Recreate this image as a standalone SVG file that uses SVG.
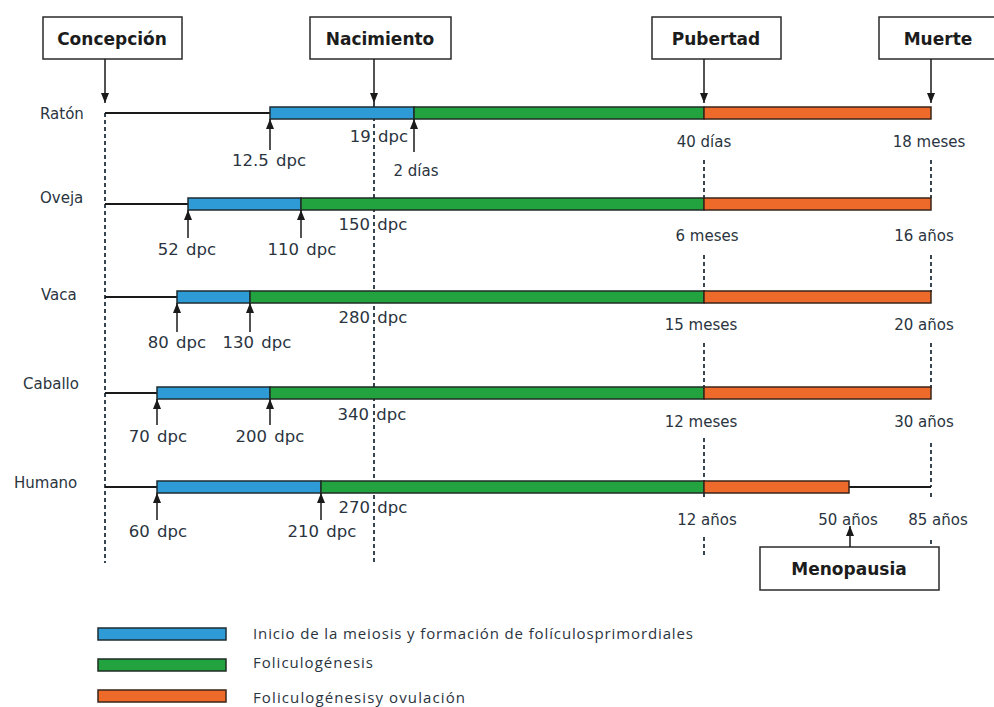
<svg xmlns="http://www.w3.org/2000/svg" width="994" height="707" viewBox="0 0 994 707">
<style>
.box{fill:#fff;stroke:#2a2a2a;stroke-width:1.5}
.bt{font-family:"DejaVu Sans",sans-serif;font-weight:bold;font-size:17px;fill:#1c1c1c;text-anchor:middle}
.sp{font-family:"DejaVu Sans",sans-serif;font-size:15px;fill:#2a3440}
.lb{font-family:"DejaVu Sans",sans-serif;font-size:15px;fill:#2a3440;text-anchor:middle}
.dpc{font-size:16.5px;word-spacing:2px}
.tl{stroke:#1a1a1a;stroke-width:2;fill:none}
.bl{fill:#2e9bd6;stroke:#1e2d33;stroke-width:1.5}
.gr{fill:#22a33f;stroke:#1e2d24;stroke-width:1.5}
.or{fill:#ee6a2b;stroke:#3a2418;stroke-width:1.5}
.ar{stroke:#1a1a1a;stroke-width:1.5;fill:none;marker-end:url(#ah)}
.dash{stroke:#23323f;stroke-width:1.8;stroke-dasharray:4 3;fill:none}
.lg{font-family:"Open Sans",sans-serif;font-size:15px;fill:#2a3440}
</style>
<defs>
<marker id="ah" viewBox="0 0 10 8" refX="10" refY="4" markerWidth="10" markerHeight="8" markerUnits="userSpaceOnUse" orient="auto">
<path d="M0,0 L10,4 L0,8 z" fill="#1a1a1a"/>
</marker>
</defs>
<rect width="994" height="707" fill="#fff"/>

<g id="guides">
<line class="dash" x1="105" y1="113" x2="105" y2="563"/>
<line class="dash" x1="374" y1="103" x2="374" y2="563"/>
<path class="dash" d="M704,160V198M704,255V292M704,343V388M704,438V481M704,493V500M704,537V558"/>
<path class="dash" d="M931,160V198M931,255V292M931,343V388M931,443V487M931,493V500M931,540V547"/>
</g>

<g id="raton">
<text class="sp" x="40" y="119">Ratón</text>
<line class="tl" x1="105" y1="113" x2="270" y2="113"/>
<rect class="bl" x="270" y="107" width="144" height="12"/>
<rect class="gr" x="414" y="107" width="290" height="12"/>
<rect class="or" x="704" y="107" width="227" height="12"/>
<text class="lb dpc" x="269" y="166">12.5 dpc</text>
<text class="lb dpc" x="379" y="142">19 dpc</text>
<text class="lb" x="416" y="176">2 días</text>
<text class="lb" x="704" y="147">40 días</text>
<text class="lb" x="929" y="147">18 meses</text>
</g>

<g id="oveja">
<text class="sp" x="40" y="203">Oveja</text>
<line class="tl" x1="105" y1="204" x2="188" y2="204"/>
<rect class="bl" x="188" y="198" width="113" height="12"/>
<rect class="gr" x="301" y="198" width="403" height="12"/>
<rect class="or" x="704" y="198" width="227" height="12"/>
<text class="lb dpc" x="187" y="255">52 dpc</text>
<text class="lb dpc" x="302" y="255">110 dpc</text>
<text class="lb dpc" x="373" y="230">150 dpc</text>
<text class="lb" x="707" y="241">6 meses</text>
<text class="lb" x="924" y="241">16 años</text>
</g>

<g id="vaca">
<text class="sp" x="41" y="300">Vaca</text>
<line class="tl" x1="105" y1="297" x2="177" y2="297"/>
<rect class="bl" x="177" y="291" width="73" height="12"/>
<rect class="gr" x="250" y="291" width="454" height="12"/>
<rect class="or" x="704" y="291" width="227" height="12"/>
<text class="lb dpc" x="177" y="348">80 dpc</text>
<text class="lb dpc" x="257" y="348">130 dpc</text>
<text class="lb dpc" x="373" y="323">280 dpc</text>
<text class="lb" x="701" y="330">15 meses</text>
<text class="lb" x="924" y="330">20 años</text>
</g>

<g id="caballo">
<text class="sp" x="23" y="389">Caballo</text>
<line class="tl" x1="105" y1="393" x2="157" y2="393"/>
<rect class="bl" x="157" y="387" width="113" height="12"/>
<rect class="gr" x="270" y="387" width="434" height="12"/>
<rect class="or" x="704" y="387" width="227" height="12"/>
<text class="lb dpc" x="158" y="442">70 dpc</text>
<text class="lb dpc" x="270" y="442">200 dpc</text>
<text class="lb dpc" x="372" y="420">340 dpc</text>
<text class="lb" x="701" y="427">12 meses</text>
<text class="lb" x="924" y="427">30 años</text>
</g>

<g id="humano">
<text class="sp" x="14" y="488">Humano</text>
<line class="tl" x1="105" y1="487" x2="157" y2="487"/>
<line class="tl" x1="849" y1="487" x2="931" y2="487"/>
<rect class="bl" x="157" y="481" width="164" height="12"/>
<rect class="gr" x="321" y="481" width="383" height="12"/>
<rect class="or" x="704" y="481" width="145" height="12"/>
<text class="lb dpc" x="158" y="537">60 dpc</text>
<text class="lb dpc" x="322" y="537">210 dpc</text>
<text class="lb dpc" x="373" y="513">270 dpc</text>
<text class="lb" x="707" y="525">12 años</text>
<text class="lb" x="848" y="525">50 años</text>
<text class="lb" x="938" y="525">85 años</text>
</g>

<g id="concepcion">
<rect class="box" x="43" y="17" width="139" height="42"/>
<text class="bt" x="112" y="45">Concepción</text>
</g>
<g id="nacimiento">
<rect class="box" x="310" y="17" width="141" height="42"/>
<text class="bt" x="380" y="45">Nacimiento</text>
</g>
<g id="pubertad">
<rect class="box" x="652" y="17" width="129" height="42"/>
<text class="bt" x="716" y="45">Pubertad</text>
</g>
<g id="muerte">
<rect class="box" x="879" y="17" width="125" height="42"/>
<text class="bt" x="938" y="45">Muerte</text>
</g>
<g id="menopausia">
<rect class="box" x="760" y="547" width="179" height="43"/>
<text class="bt" x="849" y="575">Menopausia</text>
</g>

<g id="connectors">
<line class="ar" x1="105" y1="59" x2="105" y2="103"/>
<line class="ar" x1="374" y1="59" x2="374" y2="103"/>
<line class="ar" x1="704" y1="59" x2="704" y2="103"/>
<line class="ar" x1="931" y1="59" x2="931" y2="103"/>
<line class="ar" x1="270" y1="150" x2="270" y2="119"/>
<line class="ar" x1="414" y1="152" x2="414" y2="119"/>
<line class="ar" x1="188" y1="238" x2="188" y2="210"/>
<line class="ar" x1="301" y1="238" x2="301" y2="210"/>
<line class="ar" x1="177" y1="332" x2="177" y2="303"/>
<line class="ar" x1="250" y1="332" x2="250" y2="303"/>
<line class="ar" x1="157" y1="425" x2="157" y2="399"/>
<line class="ar" x1="270" y1="425" x2="270" y2="399"/>
<line class="ar" x1="157" y1="520" x2="157" y2="493"/>
<line class="ar" x1="321" y1="520" x2="321" y2="493"/>
<line class="ar" x1="850" y1="547" x2="850" y2="526"/>
</g>

<g id="legend">
<rect class="bl" x="98" y="628" width="128" height="12"/>
<rect class="gr" x="98" y="659" width="128" height="12"/>
<rect class="or" x="98" y="690" width="128" height="12"/>
<text class="lg" x="253" y="639" textLength="440" lengthAdjust="spacing">Inicio de la meiosis y formación de folículosprimordiales</text>
<text class="lg" x="253" y="668" textLength="120" lengthAdjust="spacing">Foliculogénesis</text>
<text class="lg" x="253" y="703" textLength="212" lengthAdjust="spacing">Foliculogénesisy ovulación</text>
</g>
</svg>
